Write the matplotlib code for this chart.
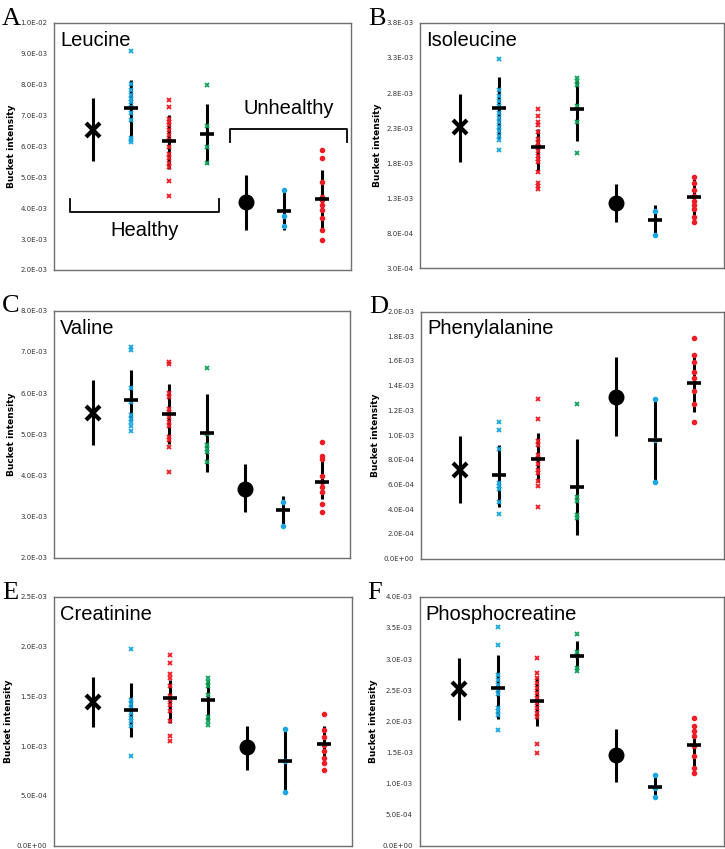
import matplotlib.pyplot as plt
from matplotlib.ticker import FuncFormatter

# group positions along x (1..7)
groups = [1, 2, 3, 4, 5, 6, 7]

# marker / colour of each group (group 1 and 5 are the big black summary points)
group_colors = ['black', '#1aa7e0', '#ee1c24', '#12a35a', 'black', '#1aa7e0', '#ee1c24']
group_markers = ['x', 'x', 'x', 'x', 'o', 'o', 'o']

panel_letters = ['A', 'B', 'C', 'D', 'E', 'F']
panel_names = ['Leucine', 'Isoleucine', 'Valine', 'Phenylalanine', 'Creatinine', 'Phosphocreatine']

# y limits and tick steps (units of 1e-3)
ylims = [(2.0, 10.0), (0.3, 3.8), (2.0, 8.0), (0.0, 2.0), (0.0, 2.5), (0.0, 4.0)]
ysteps = [1.0, 0.5, 1.0, 0.2, 0.5, 0.5]

# individual values, units of 1e-3, per panel, per group (groups 2,3,4,6,7)
leucine_pts = {
    2: [9.09, 8.02, 7.82, 7.66, 7.55, 7.44, 7.28, 7.07, 6.85, 6.26, 6.20, 6.15],
    3: [7.50, 7.28, 6.88, 6.80, 6.69, 6.53, 6.37, 6.20, 5.99, 5.77, 5.61, 5.45, 5.34, 4.88, 4.39],
    4: [7.98, 6.66, 5.99, 5.45],
    6: [4.59, 3.75, 3.42],
    7: [5.90, 5.64, 4.86, 4.37, 4.26, 4.10, 3.94, 3.67, 3.29, 2.97],
}
isoleucine_pts = {
    2: [3.29, 2.84, 2.76, 2.69, 2.61, 2.52, 2.45, 2.38, 2.31, 2.26, 2.19, 2.13, 1.99],
    3: [2.57, 2.47, 2.39, 2.34, 2.24, 2.14, 2.09, 2.05, 1.97, 1.90, 1.86, 1.81, 1.67, 1.52, 1.48, 1.43],
    4: [3.02, 2.97, 2.91, 2.61, 2.38, 1.94],
    6: [1.12, 0.77],
    7: [1.60, 1.52, 1.41, 1.33, 1.26, 1.20, 1.14, 1.03, 0.96],
}
valine_pts = {
    2: [7.13, 7.05, 6.13, 5.79, 5.46, 5.38, 5.30, 5.20, 5.09],
    3: [6.76, 6.70, 5.99, 5.91, 5.62, 5.54, 5.42, 5.30, 5.21, 4.93, 4.85, 4.69, 4.09],
    4: [6.62, 5.01, 4.73, 4.65, 4.56, 4.32],
    6: [3.36, 2.77],
    7: [4.81, 4.48, 4.40, 3.99, 3.83, 3.71, 3.59, 3.30, 3.11],
}
phenylalanine_pts = {
    2: [1.11, 1.04, 0.89, 0.61, 0.59, 0.56, 0.46, 0.36],
    3: [1.29, 1.13, 0.95, 0.92, 0.84, 0.81, 0.77, 0.72, 0.69, 0.63, 0.59, 0.42],
    4: [1.25, 0.50, 0.47, 0.35, 0.33],
    6: [1.29, 0.96, 0.62],
    7: [1.79, 1.65, 1.59, 1.51, 1.46, 1.36, 1.25, 1.11],
}
creatinine_pts = {
    2: [1.98, 1.46, 1.42, 1.38, 1.33, 1.28, 1.25, 1.20, 0.90],
    3: [1.92, 1.84, 1.72, 1.68, 1.60, 1.50, 1.46, 1.41, 1.35, 1.25, 1.10, 1.05],
    4: [1.68, 1.64, 1.60, 1.51, 1.29, 1.25, 1.21],
    6: [1.17, 0.85, 0.54],
    7: [1.32, 1.16, 1.09, 1.01, 0.95, 0.88, 0.83, 0.76],
}
phosphocreatine_pts = {
    2: [3.52, 3.23, 2.75, 2.67, 2.59, 2.51, 2.44, 2.22, 2.16, 2.10, 1.86],
    3: [3.01, 2.78, 2.70, 2.62, 2.54, 2.46, 2.38, 2.30, 2.22, 2.14, 2.06, 1.63, 1.49],
    4: [3.41, 3.12, 3.05, 2.86, 2.80],
    6: [1.13, 0.93, 0.78],
    7: [2.05, 1.92, 1.84, 1.76, 1.60, 1.44, 1.25, 1.17],
}
panel_points = [leucine_pts, isoleucine_pts, valine_pts, phenylalanine_pts,
                creatinine_pts, phosphocreatine_pts]

# group means and error bar ends (units of 1e-3), groups 1..7
means = [
    [6.53, 7.23, 6.17, 6.40, 4.21, 3.92, 4.29],
    [2.31, 2.58, 2.03, 2.57, 1.23, 0.99, 1.31],
    [5.52, 5.83, 5.48, 5.03, 3.68, 3.16, 3.85],
    [0.72, 0.68, 0.81, 0.58, 1.31, 0.96, 1.42],
    [1.44, 1.36, 1.48, 1.46, 0.99, 0.85, 1.02],
    [2.52, 2.54, 2.32, 3.05, 1.45, 0.94, 1.61],
]
err_high = [
    [7.57, 8.15, 7.03, 7.39, 5.09, 4.61, 5.23],
    [2.78, 3.03, 2.28, 2.99, 1.50, 1.20, 1.57],
    [6.31, 6.57, 6.22, 5.97, 4.28, 3.50, 4.36],
    [0.99, 0.92, 1.02, 0.97, 1.63, 1.29, 1.65],
    [1.69, 1.63, 1.66, 1.66, 1.20, 1.16, 1.20],
    [3.01, 3.07, 2.71, 3.29, 1.88, 1.13, 1.92],
]
err_low = [
    [5.53, 6.26, 5.27, 5.42, 3.29, 3.29, 3.29],
    [1.81, 2.14, 1.69, 2.12, 0.96, 0.74, 1.06],
    [4.73, 5.31, 4.77, 4.09, 3.10, 2.77, 3.42],
    [0.45, 0.42, 0.62, 0.19, 0.99, 0.62, 1.19],
    [1.19, 1.09, 1.23, 1.25, 0.76, 0.54, 0.85],
    [2.02, 2.03, 1.92, 2.82, 1.03, 0.78, 1.28],
]

# axes boxes in figure fraction [left, bottom, width, height]
boxes = [
    [0.075, 0.682, 0.409, 0.291],
    [0.580, 0.684, 0.418, 0.289],
    [0.075, 0.343, 0.408, 0.291],
    [0.581, 0.342, 0.417, 0.291],
    [0.075, 0.004, 0.411, 0.293],
    [0.579, 0.004, 0.419, 0.293],
]


def sci_fmt(v, pos):
    s = '%.1E' % (v * 1e-3)
    mant, ex = s.split('E')
    return mant + 'E' + ex[0] + ex[1:].zfill(2)


fig = plt.figure(figsize=(7.25, 8.49), dpi=100)

for i in range(6):
    ax = fig.add_axes(boxes[i])
    lo, hi = ylims[i]
    ax.set_xlim(0, 7.75)
    ax.set_ylim(lo, hi)
    n = int(round((hi - lo) / ysteps[i]))
    ax.set_yticks([lo + k * ysteps[i] for k in range(n + 1)])
    ax.yaxis.set_major_formatter(FuncFormatter(sci_fmt))
    ax.tick_params(axis='y', length=0, labelsize=5, labelcolor='#333333', pad=5)
    ax.set_xticks([])
    for sp in ax.spines.values():
        sp.set_color('#6f6f6f')
        sp.set_linewidth(1.0)
    ax.set_ylabel('Bucket intensity', fontsize=6.5, fontweight='bold', labelpad=3)

    for j, g in enumerate(groups):
        # error bar
        ax.plot([g, g], [err_low[i][j], err_high[i][j]], color='black', lw=2.2,
                solid_capstyle='butt', zorder=2)
        if g in (1, 5):
            if g == 1:
                ax.plot(g, means[i][j], marker='x', color='black', markersize=10,
                        mew=3, zorder=4)
            else:
                ax.plot(g, means[i][j], marker='o', color='black', markersize=10.5,
                        zorder=4)
            continue
        vals = panel_points[i][g]
        if group_markers[j] == 'x':
            ax.plot([g] * len(vals), vals, linestyle='none', marker='x',
                    color=group_colors[j], markersize=3.3, mew=1.3, zorder=3)
        else:
            ax.plot([g] * len(vals), vals, linestyle='none', marker='o',
                    color=group_colors[j], markersize=3.0, zorder=3)
        ax.plot(g, means[i][j], marker='_', color='black', markersize=10,
                mew=2.6, zorder=5)

    ax.text(0.02, 0.93, panel_names[i], transform=ax.transAxes, fontsize=14.5,
            family='Liberation Sans', va='center', ha='left')
    fig.text(boxes[i][0] - 0.072, boxes[i][1] + boxes[i][3] - 0.002, panel_letters[i],
             fontsize=19, family='Liberation Serif', ha='left', va='baseline')

    if i == 0:
        # Healthy bracket (opens upward)
        ax.plot([0.42, 0.42, 4.29, 4.29], [4.29, 3.89, 3.89, 4.29], color='black', lw=1.3)
        ax.text(2.36, 3.29, 'Healthy', fontsize=14.5, family='Liberation Sans',
                ha='center', va='center')
        # Unhealthy bracket (opens downward)
        ax.plot([4.60, 4.60, 7.65, 7.65], [6.15, 6.58, 6.58, 6.15], color='black', lw=1.3)
        ax.text(6.12, 7.23, 'Unhealthy', fontsize=14.5, family='Liberation Sans',
                ha='center', va='center')

fig.savefig('out.png', dpi=100)
